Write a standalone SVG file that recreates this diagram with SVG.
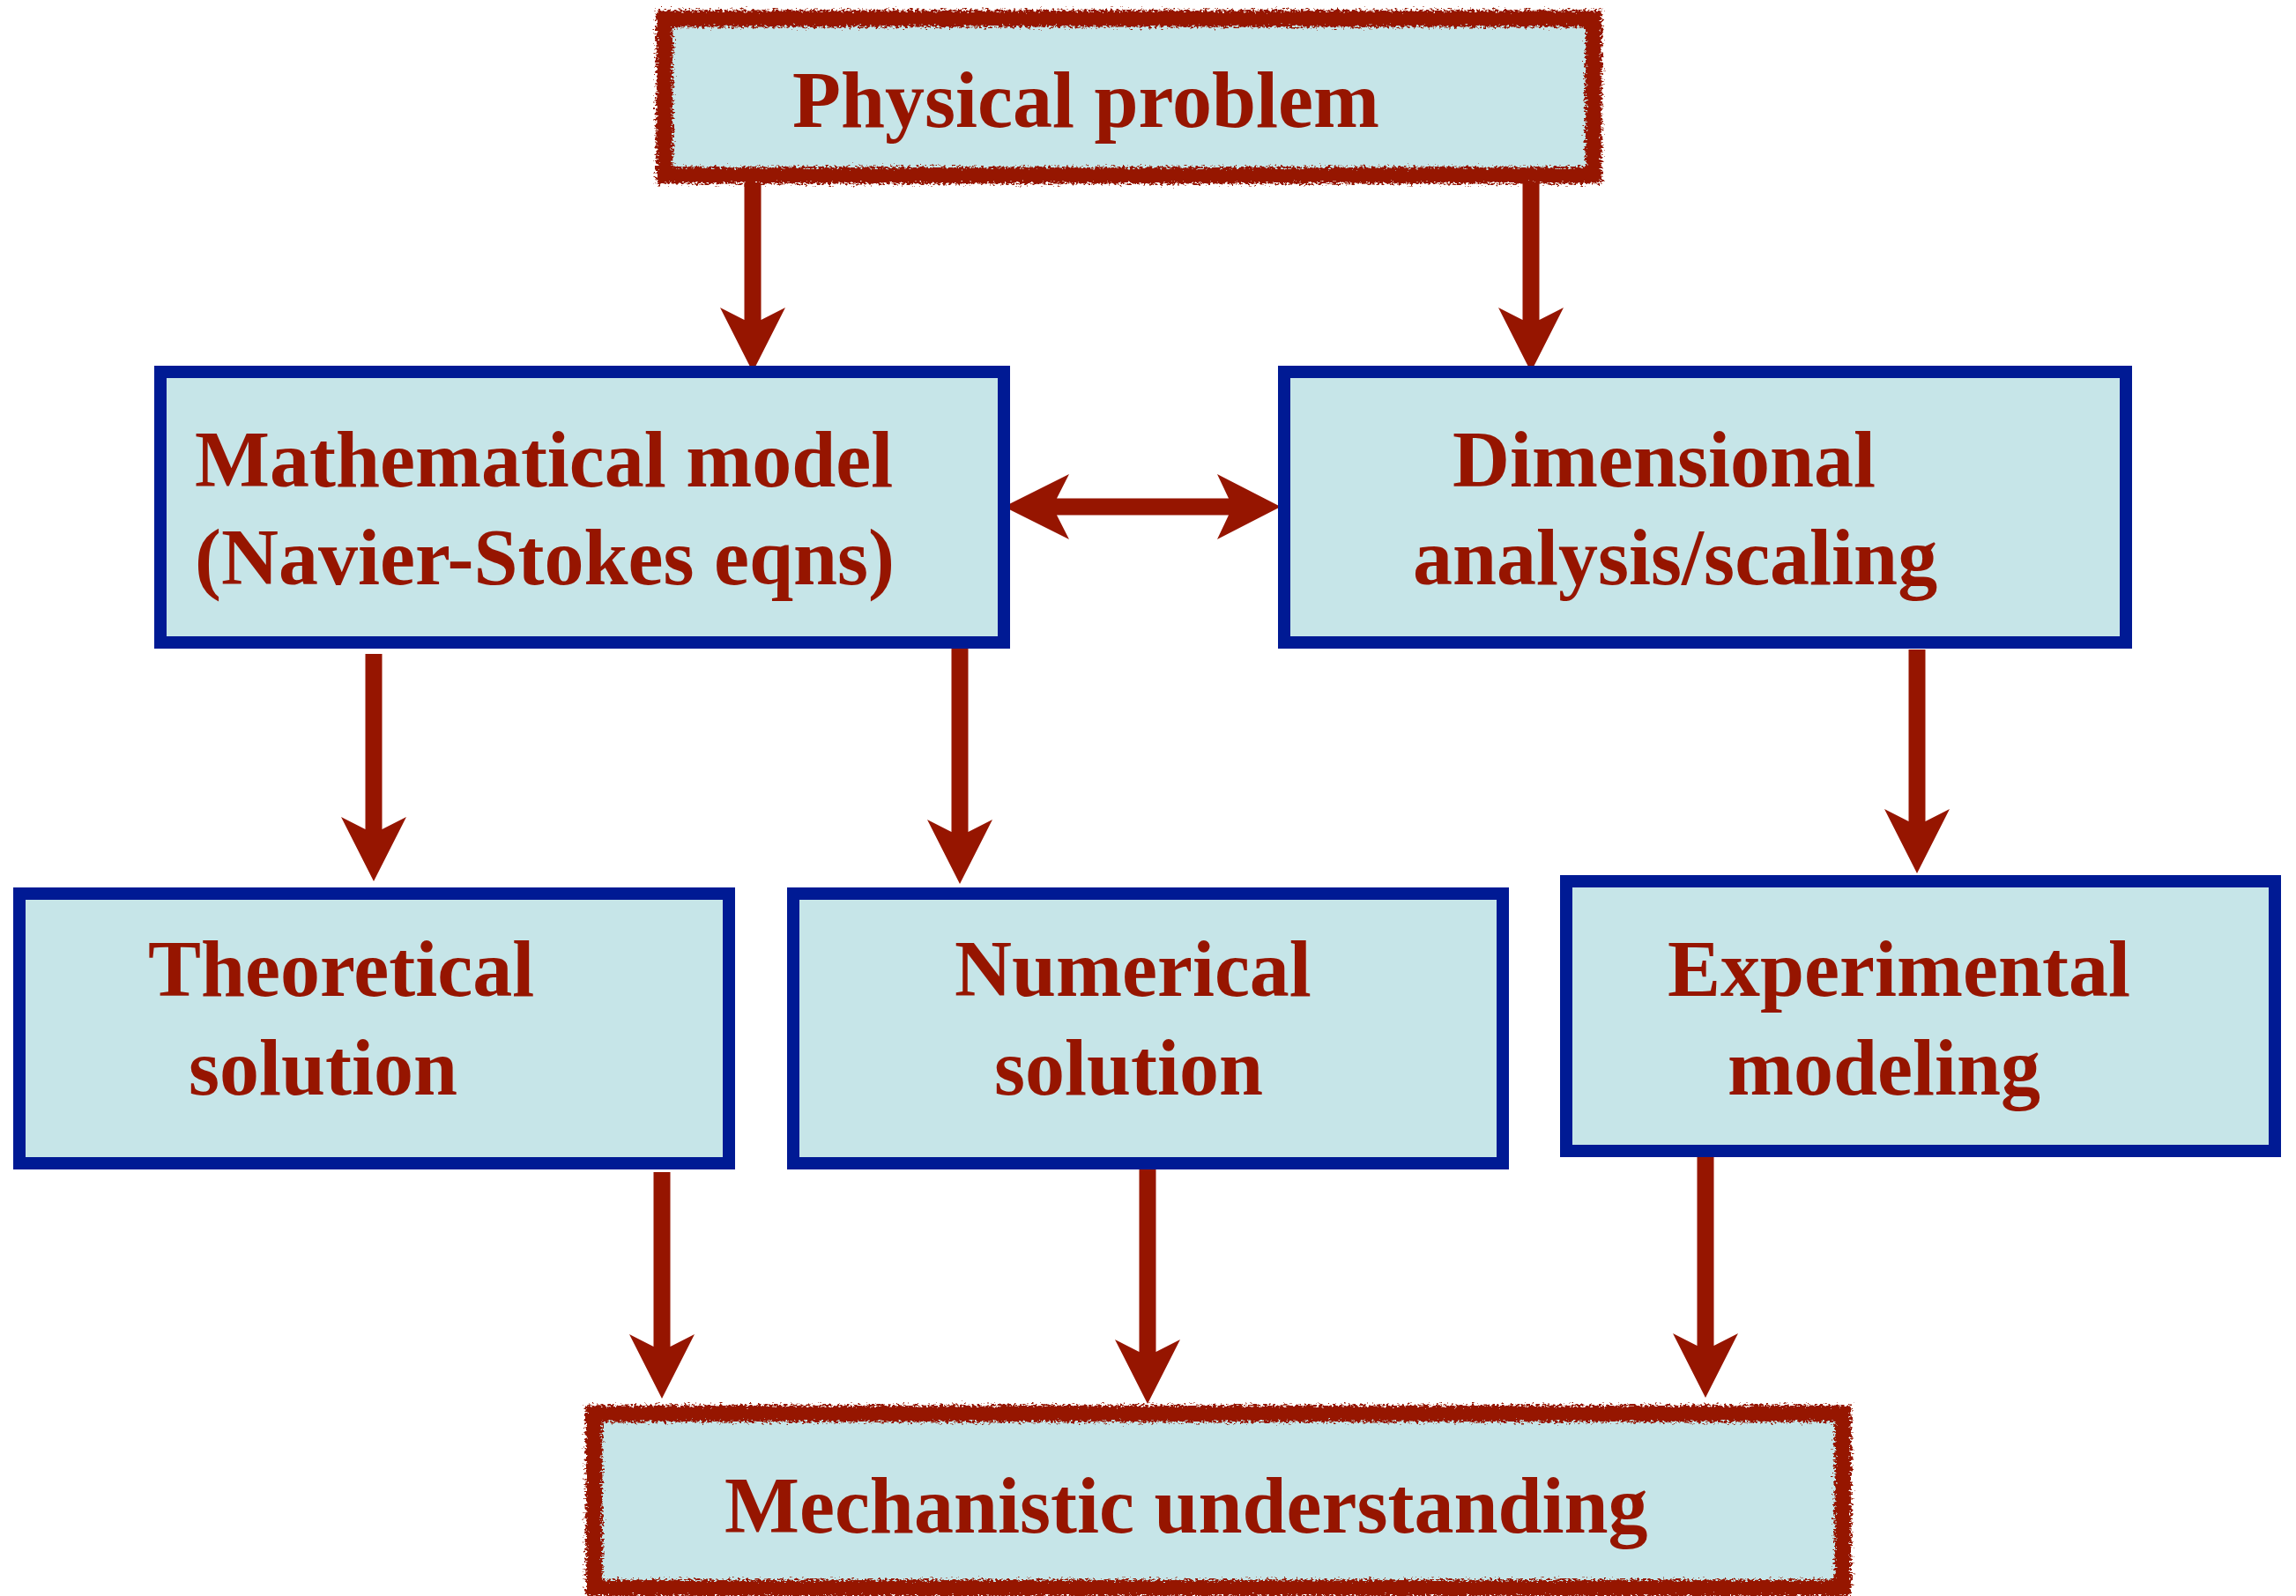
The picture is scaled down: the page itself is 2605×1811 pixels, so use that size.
<svg xmlns="http://www.w3.org/2000/svg" width="2605" height="1811" viewBox="0 0 2605 1811">
  <style>
    .box { fill: #C6E5E8; stroke: #001A94; stroke-width: 14; }
    .fill { fill: #C6E5E8; }
    .rough { fill: none; stroke: #961500; stroke-width: 19; filter: url(#roughen); }
    .lbl { font-family: "Liberation Serif", "Times New Roman", serif; font-weight: bold; font-size: 90px; fill: #961500; }
    .arrow { fill: #961500; }
  </style>
  <defs>
    <filter id="roughen" x="-5%" y="-20%" width="110%" height="140%">
      <feTurbulence type="fractalNoise" baseFrequency="0.3 0.45" numOctaves="3" seed="3" result="noise"/>
      <feDisplacementMap in="SourceGraphic" in2="noise" scale="12" xChannelSelector="R" yChannelSelector="G"/>
    </filter>
  </defs>
  <rect width="2605" height="1811" fill="#FFFFFF"/>

  <g id="connectors">
    <!-- top -> math -->
    <polygon class="arrow" points="844.5,207 863.5,207 863.5,363 891,349 854,422 817,349 844.5,363"/>
    <!-- top -> dimensional -->
    <polygon class="arrow" points="1727.5,207 1746.5,207 1746.5,363 1774,349 1737,422 1700,349 1727.5,363"/>
    <!-- math <-> dimensional -->
    <polygon class="arrow" points="1139,575 1213,538 1199,565.5 1394,565.5 1381,538 1453,575 1381,612 1394,584.5 1199,584.5 1213,612"/>
    <!-- math -> theoretical -->
    <polygon class="arrow" points="414.5,742 433.5,742 433.5,941 461,927 424,1000 387,927 414.5,941"/>
    <!-- math -> numerical -->
    <polygon class="arrow" points="1079.5,733 1098.5,733 1098.5,944 1126,930 1089,1003 1052,930 1079.5,944"/>
    <!-- dimensional -> experimental -->
    <polygon class="arrow" points="2165.5,737 2184.5,737 2184.5,932 2212,918 2175,991 2138,918 2165.5,932"/>
    <!-- theoretical -> mechanistic -->
    <polygon class="arrow" points="741.5,1330 760.5,1330 760.5,1528 788,1514 751,1587 714,1514 741.5,1528"/>
    <!-- numerical -> mechanistic -->
    <polygon class="arrow" points="1292.5,1322 1311.5,1322 1311.5,1534 1339,1520 1302,1593 1265,1520 1292.5,1534"/>
    <!-- experimental -> mechanistic -->
    <polygon class="arrow" points="1925.5,1313 1944.5,1313 1944.5,1527 1972,1513 1935,1586 1898,1513 1925.5,1527"/>
  </g>

  <g id="physical-problem">
    <rect class="fill" x="754" y="21" width="1054" height="178"/>
    <rect class="rough" x="754" y="21" width="1054" height="178"/>
    <text class="lbl" x="899" y="144">Physical problem</text>
  </g>

  <g id="mathematical-model">
    <rect class="box" x="182" y="422" width="957" height="307"/>
    <text class="lbl" x="221" y="552">Mathematical model</text>
    <text class="lbl" x="221" y="663">(Navier-Stokes eqns)</text>
  </g>

  <g id="dimensional-analysis">
    <rect class="box" x="1457" y="422" width="955" height="307"/>
    <text class="lbl" x="1648" y="552">Dimensional</text>
    <text class="lbl" x="1603" y="663">analysis/scaling</text>
  </g>

  <g id="theoretical-solution">
    <rect class="box" x="22" y="1014" width="805" height="306"/>
    <text class="lbl" x="168" y="1130">Theoretical</text>
    <text class="lbl" x="214" y="1242">solution</text>
  </g>

  <g id="numerical-solution">
    <rect class="box" x="900" y="1014" width="805" height="306"/>
    <text class="lbl" x="1083" y="1130">Numerical</text>
    <text class="lbl" x="1128" y="1242">solution</text>
  </g>

  <g id="experimental-modeling">
    <rect class="box" x="1777" y="1000" width="804" height="306"/>
    <text class="lbl" x="1892" y="1130">Experimental</text>
    <text class="lbl" x="1960" y="1242">modeling</text>
  </g>

  <g id="mechanistic-understanding">
    <rect class="fill" x="674" y="1604" width="1417" height="198"/>
    <rect class="rough" x="674" y="1604" width="1417" height="198"/>
    <text class="lbl" x="822" y="1739">Mechanistic understanding</text>
  </g>
</svg>
